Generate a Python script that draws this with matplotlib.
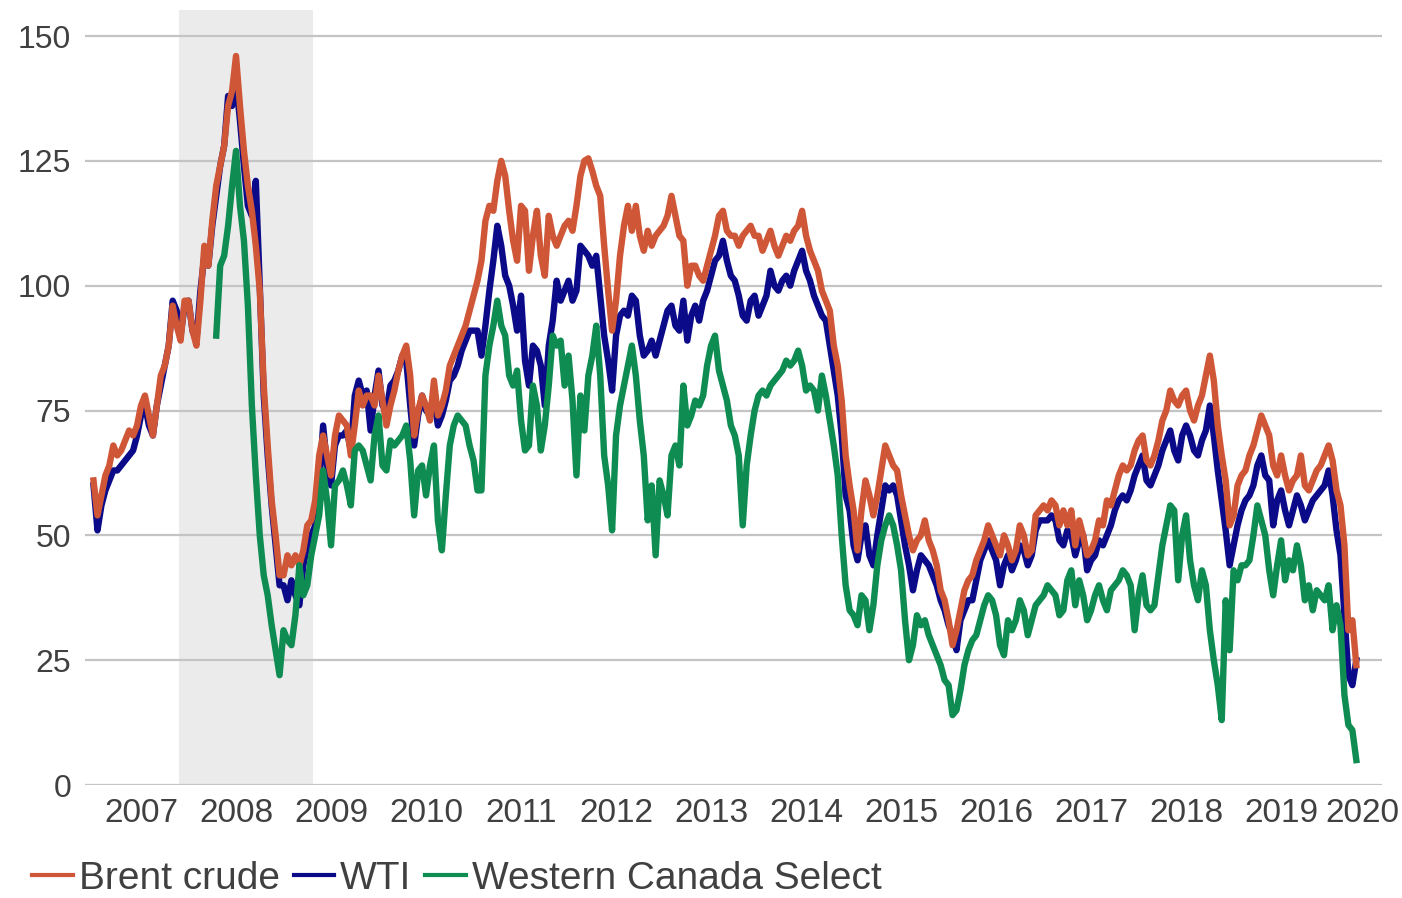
import numpy as np
import matplotlib
matplotlib.use("Agg")
import matplotlib.pyplot as plt

# semi-monthly readings (1st and 15th of each month), Jan 2007 - Apr 2020, US$/bbl
START_YEAR = 2007
STEPS_PER_YEAR = 24

brent = [
    61, 54, 58, 62, 64, 68, 66, 67, 69, 71, 70, 72, 76, 78, 74, 70, 76, 82, 84, 88, 96, 92, 89, 97,            # 2007
    97, 91, 88, 97, 108, 104, 113, 120, 124, 128, 136, 139, 146, 136, 127, 120, 115, 108, 99, 80, 68, 57, 50, 42,  # 2008
    42, 46, 44, 46, 44, 47, 52, 53, 57, 66, 70, 66, 62, 70, 74, 73, 72, 66, 72, 79, 76, 78, 78, 76,            # 2009
    82, 77, 72, 76, 79, 83, 86, 88, 82, 70, 75, 78, 76, 73, 81, 74, 76, 79, 84, 86, 88, 90, 92, 95,            # 2010
    98, 101, 105, 113, 116, 115, 121, 125, 122, 115, 109, 105, 116, 115, 103, 110, 115, 106, 102, 114, 110, 108, 110, 112,  # 2011
    113, 111, 116, 122, 125, 125.5, 123, 120, 118, 108, 99, 91, 97, 106, 112, 116, 111, 116, 110, 107, 111, 108, 110, 111,  # 2012
    112, 114, 118, 114, 110, 109, 100, 104, 104, 102, 101, 104, 107, 110, 114, 115, 111, 110, 110, 108, 110, 111, 112, 110,  # 2013
    110, 107, 109, 111, 108, 106, 108, 110, 109, 111, 112, 115, 110, 107, 105, 103, 99, 97, 95, 88, 84, 77, 66, 60,  # 2014
    55, 47, 55, 61, 58, 54, 58, 63, 68, 66, 64, 63, 58, 54, 50, 47, 49, 50, 53, 49, 47, 44, 39, 37,            # 2015
    33, 28, 31, 35, 39, 41, 42, 45, 47, 49, 52, 50, 48, 46, 50, 48, 45, 47, 52, 50, 46, 47, 54, 55,            # 2016
    56, 55, 57, 56, 52, 55, 52, 55, 48, 53, 50, 46, 47, 49, 53, 52, 57, 56, 59, 62, 64, 63, 64, 67,            # 2017
    69, 70, 65, 64, 66, 69, 73, 75, 79, 77, 76, 78, 79, 75, 73, 76, 78, 82, 86, 81, 72, 66, 61, 52,            # 2018
    54, 60, 62, 63, 66, 68, 71, 74, 72, 70, 64, 62, 66, 62, 59, 61, 62, 66, 60, 59, 61, 63, 64, 66,            # 2019
    68, 65, 59, 56, 48, 31, 33, 24,                                                                            # 2020
]

wti = [
    60, 51, 56, 59, 61, 63, 63, 64, 65, 66, 67, 70, 74, 76, 72, 70, 76, 80, 84, 88, 97, 95, 90, 96,            # 2007
    97, 91, 89, 99, 106, 104, 112, 118, 124, 128, 138, 136, 141, 133, 124, 116, 114, 121, 100, 78, 66, 56, 48, 40,  # 2008
    40, 37, 41, 38, 36, 44, 48, 50, 52, 60, 72, 64, 60, 68, 70, 70, 71, 67, 78, 81, 78, 79, 71, 78,            # 2009
    83, 76, 75, 80, 81, 83, 86, 85, 76, 68, 74, 78, 75, 74, 77, 72, 74, 77, 81, 82, 84, 87, 89, 91,            # 2010
    91, 91, 86, 92, 99, 105, 112, 108, 102, 100, 96, 91, 98, 85, 80, 88, 87, 84, 76, 88, 93, 101, 97, 99,      # 2011
    101, 97, 99, 108, 107, 106, 104, 106, 98, 90, 85, 79, 90, 94, 95, 94, 98, 97, 90, 86, 87, 89, 86, 89,      # 2012
    92, 95, 96, 92, 91, 97, 89, 94, 96, 93, 97, 99, 102, 105, 106, 109, 105, 102, 101, 98, 94, 93, 97, 98,     # 2013
    94, 96, 98, 103, 100, 99, 101, 102, 100, 103, 105, 107, 103, 101, 98, 96, 94, 93, 88, 83, 78, 70, 58, 55,  # 2014
    48, 45, 50, 52, 46, 44, 50, 55, 60, 59, 60, 58, 53, 48, 44, 39, 43, 46, 45, 44, 42, 40, 37, 35,            # 2015
    32, 30, 27, 33, 35, 37, 37, 41, 45, 47, 49, 47, 45, 40, 44, 46, 43, 45, 48, 47, 44, 46, 51, 53,            # 2016
    53, 53, 54, 53, 49, 48, 51, 50, 46, 49, 50, 43, 45, 46, 49, 48, 50, 52, 55, 57, 58, 57, 59, 62,            # 2017
    64, 66, 61, 60, 62, 64, 67, 69, 71, 67, 65, 70, 72, 70, 67, 66, 69, 71, 76, 70, 63, 57, 51, 44,            # 2018
    48, 52, 55, 57, 58, 60, 64, 66, 62, 61, 52, 57, 59, 55, 52, 55, 58, 56, 53, 55, 57, 58, 59, 60,            # 2019
    63, 58, 51, 46, 34, 22, 20, 25,                                                                            # 2020
]

nan = np.nan
wcs = [
    nan] * 31 + [                                                                                              # no data before Apr 2008
    90, 104, 106, 112, 120, 127, 116, 109, 96, 76, 62, 50, 42, 38, 32, 27, 22,                                # 2008
    31, 29, 28, 34, 44, 38, 40, 46, 50, 54, 63, 57, 48, 60, 61, 63, 60, 56, 67, 68, 67, 64, 61, 70,            # 2009
    74, 64, 63, 69, 68, 69, 70, 72, 65, 54, 63, 64, 58, 64, 68, 53, 47, 58, 68, 72, 74, 73, 72, 68,            # 2010
    65, 59, 59, 82, 88, 92, 97, 92, 90, 82, 80, 83, 73, 67, 68, 80, 76, 67, 72, 80, 90, 88, 89, 80,            # 2011
    86, 77, 62, 78, 71, 82, 86, 92, 82, 66, 60, 51, 70, 76, 80, 84, 88, 82, 73, 66, 53, 60, 46, 61,            # 2012
    58, 54, 66, 68, 64, 80, 72, 74, 77, 76, 78, 84, 88, 90, 83, 80, 77, 72, 70, 66, 52, 64, 70, 75,            # 2013
    78, 79, 78, 80, 81, 82, 83, 85, 84, 85, 87, 84, 79, 80, 79, 75, 82, 78, 73, 68, 62, 50, 40, 35,            # 2014
    34, 32, 38, 37, 31, 36, 44, 49, 52, 54, 52, 48, 43, 33, 25, 28, 34, 32, 33, 30, 28, 26, 24, 21,            # 2015
    20, 14, 15, 19, 24, 27, 29, 30, 33, 36, 38, 37, 34, 28, 26, 33, 31, 33, 37, 35, 30, 33, 36, 37,            # 2016
    38, 40, 39, 38, 34, 35, 41, 43, 36, 41, 38, 33, 35, 38, 40, 37, 35, 39, 40, 41, 43, 42, 40, 31,            # 2017
    38, 42, 36, 35, 36, 42, 48, 52, 56, 55, 41, 50, 54, 45, 40, 37, 43, 40, 31, 25, 20, 13, 37, 27,            # 2018
    43, 41, 44, 44, 45, 50, 56, 53, 50, 43, 38, 44, 49, 41, 45, 43, 48, 44, 37, 40, 35, 39, 38, 37,            # 2019
    40, 31, 36, 32, 18, 12, 11, 5,                                                                             # 2020
]

YEARS = list(range(2007, 2021))
RECESSION = (2007.9, 2009.31)

C_BRENT = "#cf5636"
C_WTI = "#0b0b8a"
C_WCS = "#0f8c52"
C_TEXT = "#404040"
C_GRID = "#c4c4c4"

plt.rcParams["font.family"] = ["Liberation Sans", "DejaVu Sans"]

t = START_YEAR + np.arange(len(brent)) / STEPS_PER_YEAR

fig = plt.figure(figsize=(14.02, 8.98), dpi=100)
ax = fig.add_axes([0.0606, 0.1258, 0.925, 0.863])

ax.axvspan(*RECESSION, color="#ebebeb", lw=0, zorder=0)
for v in range(0, 151, 25):
    ax.axhline(v, color=C_GRID, lw=1.6, zorder=1)

LW = 4.6
ax.plot(t, wti, color=C_WTI, lw=LW, label="WTI", zorder=3)
ax.plot(t, brent, color=C_BRENT, lw=LW, label="Brent crude", zorder=4)
ax.plot(t, wcs, color=C_WCS, lw=LW, label="Western Canada Select", zorder=5)

ax.set_xlim(2006.91, 2020.56)
ax.set_ylim(0, 155.2)
ax.set_yticks(range(0, 151, 25))
# year labels sit mid-year; the last (partial) year is centred on its data
xpos = [y + 0.5 for y in YEARS[:-1]] + [YEARS[-1] + 0.36]
ax.set_xticks(xpos)
ax.set_xticklabels([str(y) for y in YEARS])
ax.tick_params(axis="both", length=0, colors=C_TEXT)
ax.tick_params(axis="x", labelsize=24, pad=9)
ax.tick_params(axis="y", labelsize=23, pad=10)
for s in ax.spines.values():
    s.set_visible(False)

h, l = ax.get_legend_handles_labels()
order = [1, 0, 2]
leg = fig.legend([h[i] for i in order], [l[i] for i in order], loc="lower left",
                 bbox_to_anchor=(0.012, -0.016), ncol=3, frameon=False, fontsize=28,
                 handlelength=1.05, handletextpad=0.15, columnspacing=0.35,
                 borderaxespad=0)
for line in leg.get_lines():
    line.set_linewidth(3.0)
for txt in leg.get_texts():
    txt.set_color(C_TEXT)

fig.savefig("out.png", dpi=100)
